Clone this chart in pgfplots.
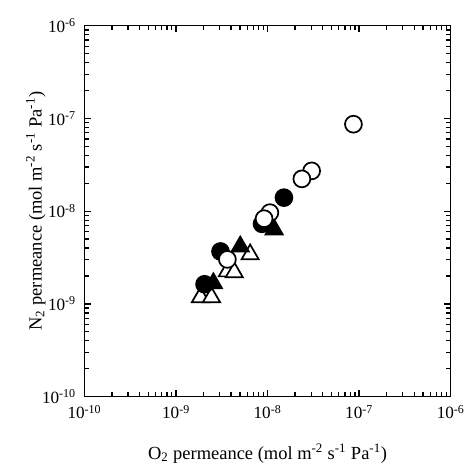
\documentclass[border=0pt]{standalone}
\usepackage{pgfplots}
\pgfplotsset{compat=1.18}
\usepackage{fontspec}
\setmainfont{Liberation Serif}

% O2 permeance / N2 permeance, mol m^-2 s^-1 Pa^-1
\begin{document}
\begin{tikzpicture}
\begin{axis}[
    scale only axis,
    width=277.5pt,
    height=281pt,
    xmode=log, ymode=log,
    xmin=1e-10, xmax=1e-6,
    ymin=1e-10, ymax=1e-6,
    xtick={1e-10,1e-9,1e-8,1e-7,1e-6},
    ytick={1e-10,1e-9,1e-8,1e-7,1e-6},
    minor xtick={2e-10,3e-10,4e-10,5e-10,6e-10,7e-10,8e-10,9e-10,2e-9,3e-9,4e-9,5e-9,6e-9,7e-9,8e-9,9e-9,2e-8,3e-8,4e-8,5e-8,6e-8,7e-8,8e-8,9e-8,2e-7,3e-7,4e-7,5e-7,6e-7,7e-7,8e-7,9e-7},
    minor ytick={2e-10,3e-10,4e-10,5e-10,6e-10,7e-10,8e-10,9e-10,2e-9,3e-9,4e-9,5e-9,6e-9,7e-9,8e-9,9e-9,2e-8,3e-8,4e-8,5e-8,6e-8,7e-8,8e-8,9e-8,2e-7,3e-7,4e-7,5e-7,6e-7,7e-7,8e-7,9e-7},
    xticklabels={10\textsuperscript{-10},10\textsuperscript{-9},10\textsuperscript{-8},10\textsuperscript{-7},10\textsuperscript{-6}},
    yticklabels={10\textsuperscript{-10},10\textsuperscript{-9},10\textsuperscript{-8},10\textsuperscript{-7},10\textsuperscript{-6}},
    tick align=inside,
    major tick length=5pt,
    minor tick length=3.5pt,
    axis line style={line width=1.1pt},
    major tick style={black, line width=1pt},
    minor tick style={black, line width=1pt},
    tick label style={font=\fontsize{13}{15}\selectfont},
    xticklabel style={yshift=-3pt},
    yticklabel style={xshift=-3pt},
    xlabel={O\textsubscript{2} permeance (mol m\textsuperscript{-2} s\textsuperscript{-1} Pa\textsuperscript{-1})},
    ylabel={N\textsubscript{2} permeance (mol m\textsuperscript{-2} s\textsuperscript{-1} Pa\textsuperscript{-1})},
    every axis x label/.style={at={(axis description cs:0.5,-0.153)}, anchor=center,
        font=\fontsize{14}{16}\selectfont},
    every axis y label/.style={at={(axis description cs:-0.133,0.5)}, rotate=90, anchor=center,
        font=\fontsize{14}{16}\selectfont},
    clip=false,
]
% open triangles
\addplot[only marks, mark=triangle*, mark size=7.5pt, line width=1.3pt,
    mark options={fill=white, draw=black}] coordinates {
(6.45e-9,3.42e-9)
(3.64e-9,2.24e-9)
(4.33e-9,2.19e-9)
(1.85e-9,1.18e-9)
(2.44e-9,1.18e-9)
};
% filled triangles
\addplot[only marks, mark=triangle*, mark size=7.5pt, line width=1.3pt,
    mark options={fill=black, draw=black}] coordinates {
(1.18e-8,6.34e-9)
(5.03e-9,4.16e-9)
(2.56e-9,1.67e-9)
};
% filled circles
\addplot[only marks, mark=*, mark size=6.4pt, line width=1.3pt,
    mark options={fill=black, draw=black}] coordinates {
(1.51e-8,1.40e-8)
(8.7e-9,7.3e-9)
(3.06e-9,3.68e-9)
(2.05e-9,1.63e-9)
};
% open circles
\addplot[only marks, mark=*, mark size=6.4pt, line width=1.3pt,
    mark options={fill=white, draw=black}] coordinates {
(8.67e-8,8.67e-8)
(3.03e-8,2.72e-8)
(2.37e-8,2.23e-8)
(1.06e-8,9.64e-9)
(9.16e-9,8.3e-9)
(3.64e-9,3.02e-9)
};
% white margin as in the reference
\path (axis description cs:0,0) ++(-64pt,-49.5pt) (axis description cs:1,1) ++(10.5pt,19.5pt);
\end{axis}
\end{tikzpicture}
\end{document}
